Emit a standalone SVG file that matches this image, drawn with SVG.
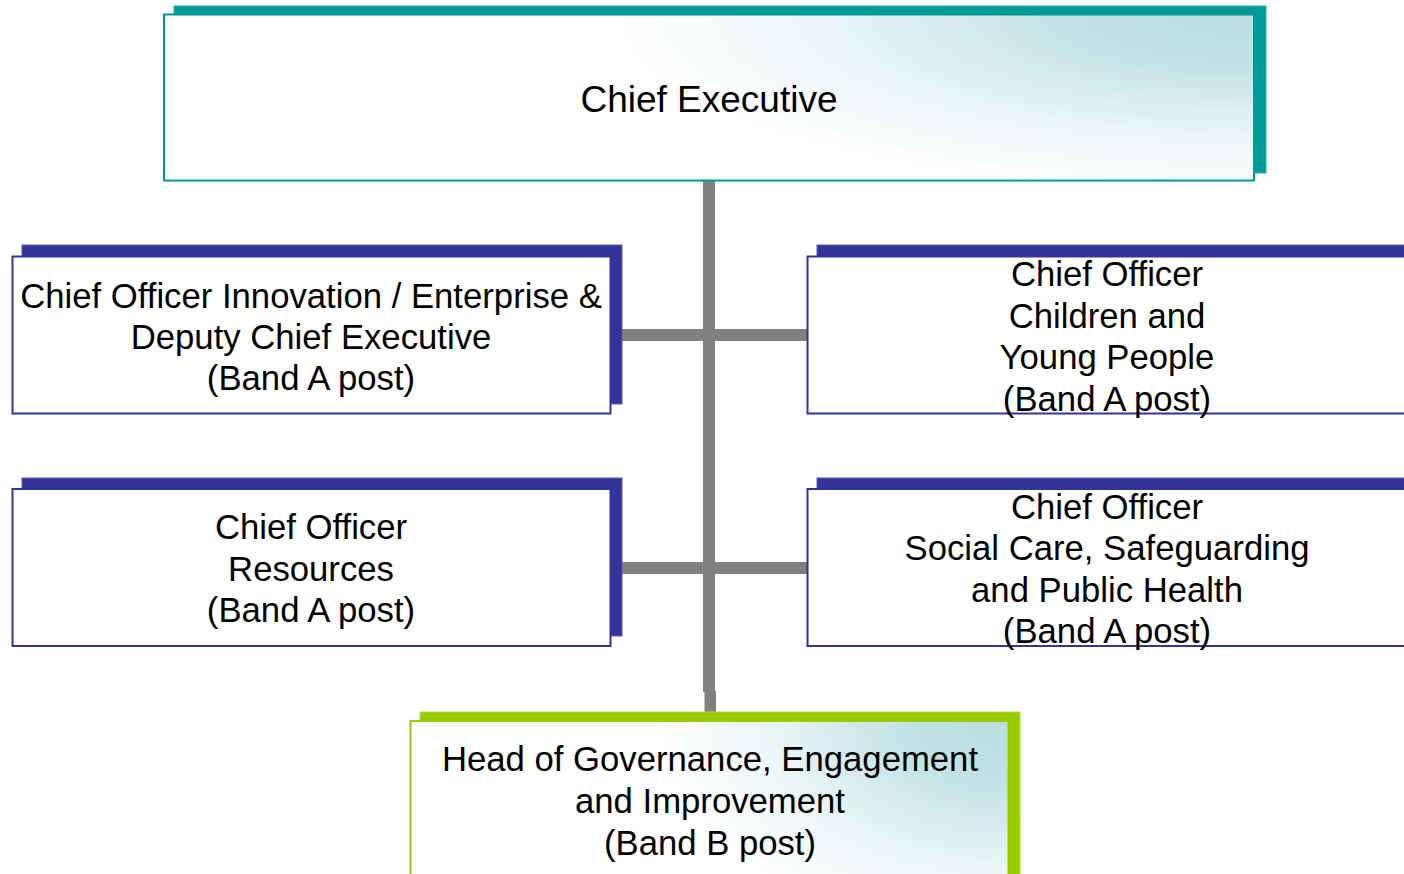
<svg xmlns="http://www.w3.org/2000/svg" width="1404" height="874" viewBox="0 0 1404 874">
  <defs>
    <radialGradient id="tealGrad" cx="1" cy="0" r="1" gradientTransform="matrix(0.6 0 0 1.1 0.4 0)">
      <stop offset="0" stop-color="#b9dee2"/>
      <stop offset="0.3" stop-color="#c3e3e6"/>
      <stop offset="0.7" stop-color="#eef7f8"/>
      <stop offset="1" stop-color="#ffffff"/>
    </radialGradient>
    <style>
      .txt { font-family: "Liberation Sans", Arial, sans-serif; fill: #000000; text-anchor: middle; }
      .lg { font-size: 37px; }
      .md { font-size: 34.7px; }
      .sh-teal { fill: #009999; stroke: #33b0b0; stroke-width: 1; }
      .fr-teal { fill: url(#tealGrad); stroke: #009999; stroke-width: 2; }
      .sh-blue { fill: #333399; stroke: #5c5cad; stroke-width: 1; }
      .fr-blue { fill: #ffffff; stroke: #333399; stroke-width: 2; }
      .sh-green { fill: #99cc00; stroke: #b3db4d; stroke-width: 1; }
      .fr-green { fill: url(#tealGrad); stroke: #99cc00; stroke-width: 2; }
      .conn { fill: #808080; }
    </style>
  </defs>
  <rect width="1404" height="874" fill="#ffffff"/>

  <g id="connectors">
    <rect class="conn" x="703" y="181" width="12" height="511"/>
    <rect class="conn" x="704.5" y="691" width="11.5" height="22"/>
    <rect class="conn" x="616" y="329" width="192" height="12"/>
    <rect class="conn" x="616" y="562" width="192" height="12"/>
  </g>

  <g id="chief-executive">
    <rect class="sh-teal" x="174" y="6" width="1092" height="167"/>
    <rect class="fr-teal" x="164" y="14.5" width="1090" height="166"/>
    <text class="txt lg" x="709" y="112">Chief Executive</text>
  </g>

  <g id="co-innovation">
    <rect class="sh-blue" x="22" y="245" width="600" height="159"/>
    <rect class="fr-blue" x="12.5" y="256.5" width="598" height="157"/>
    <text class="txt md" x="311" y="308">Chief Officer Innovation / Enterprise &amp;</text>
    <text class="txt md" x="311" y="349">Deputy Chief Executive</text>
    <text class="txt md" x="311" y="390">(Band A post)</text>
  </g>

  <g id="co-children">
    <rect class="sh-blue" x="817" y="245" width="600" height="159"/>
    <rect class="fr-blue" x="807.5" y="256.5" width="598" height="157"/>
    <text class="txt md" x="1107" y="286">Chief Officer</text>
    <text class="txt md" x="1107" y="327.5">Children and</text>
    <text class="txt md" x="1107" y="369">Young People</text>
    <text class="txt md" x="1107" y="410.5">(Band A post)</text>
  </g>

  <g id="co-resources">
    <rect class="sh-blue" x="22" y="478" width="600" height="158"/>
    <rect class="fr-blue" x="12.5" y="489" width="598" height="157"/>
    <text class="txt md" x="311" y="539">Chief Officer</text>
    <text class="txt md" x="311" y="580.5">Resources</text>
    <text class="txt md" x="311" y="622">(Band A post)</text>
  </g>

  <g id="co-social-care">
    <rect class="sh-blue" x="817" y="478" width="600" height="158"/>
    <rect class="fr-blue" x="807.5" y="489" width="598" height="157"/>
    <text class="txt md" x="1107" y="518.5">Chief Officer</text>
    <text class="txt md" x="1107" y="560">Social Care, Safeguarding</text>
    <text class="txt md" x="1107" y="601.5">and Public Health</text>
    <text class="txt md" x="1107" y="643">(Band A post)</text>
  </g>

  <g id="head-governance">
    <rect class="sh-green" x="420" y="712" width="600" height="200"/>
    <rect class="fr-green" x="410.5" y="721" width="598" height="200"/>
    <text class="txt md" x="710" y="771">Head of Governance, Engagement</text>
    <text class="txt md" x="710" y="812.5">and Improvement</text>
    <text class="txt md" x="710" y="854.5">(Band B post)</text>
  </g>
</svg>
